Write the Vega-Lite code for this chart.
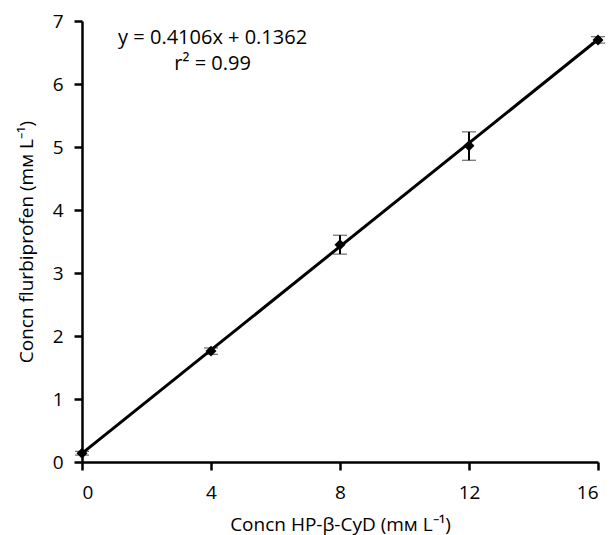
{
  "$schema": "https://vega.github.io/schema/vega-lite/v6.json",
  "width": 516,
  "height": 441,
  "autosize": {"type": "none"},
  "padding": {"left": 82, "top": 21, "right": 16, "bottom": 73},
  "background": "white",
  "config": {
    "font": "Open Sans",
    "view": {"stroke": null},
    "axis": {
      "domainColor": "black",
      "domainWidth": 2.5,
      "tickColor": "black",
      "tickWidth": 2.5,
      "tickSize": 8,
      "grid": false,
      "labelFont": "Open Sans",
      "labelFontSize": 19,
      "labelColor": "black",
      "titleFont": "Open Sans",
      "titleFontSize": 19,
      "titleFontWeight": "normal",
      "titleColor": "black"
    }
  },
  "datasets": {
    "pts": [
      {"x": 0, "y": 0.14, "lo": 0.11, "hi": 0.17},
      {"x": 4, "y": 1.76, "lo": 1.71, "hi": 1.81},
      {"x": 8, "y": 3.45, "lo": 3.30, "hi": 3.60},
      {"x": 12, "y": 5.02, "lo": 4.79, "hi": 5.24},
      {"x": 16, "y": 6.70, "lo": 6.65, "hi": 6.75}
    ],
    "fit": [
      {"x": 0, "y": 0.1362},
      {"x": 16, "y": 6.7058}
    ],
    "notes": [
      {"x": 4.05, "y": 6.73, "t": "y = 0.4106x + 0.1362"},
      {"x": 4.05, "y": 6.32, "t": "r² = 0.99"}
    ]
  },
  "encoding": {
    "x": {"field": "x", "type": "quantitative", "scale": {"domain": [0, 16]},
      "title": "Concn HP-β-CyD (mм L⁻¹)",
      "axis": {"values": [0, 4, 8, 12, 16], "format": "d", "labelPadding": 13, "titlePadding": 13}},
    "y": {"field": "y", "type": "quantitative", "scale": {"domain": [0, 7]},
      "title": "Concn flurbiprofen (mм L⁻¹)",
      "axis": {"values": [0, 1, 2, 3, 4, 5, 6, 7], "format": "d", "labelPadding": 11, "titlePadding": 16}}
  },
  "layer": [
    {
      "data": {"name": "fit"},
      "mark": {"type": "line", "color": "black", "strokeWidth": 3}
    },
    {
      "data": {"name": "pts"},
      "mark": {"type": "errorbar", "ticks": {"size": 14, "color": "black", "strokeWidth": 2}, "rule": {"color": "black", "strokeWidth": 2}},
      "encoding": {
        "y": {"field": "lo", "type": "quantitative", "title": "Concn flurbiprofen (mм L⁻¹)"},
        "y2": {"field": "hi"}
      }
    },
    {
      "data": {"name": "pts"},
      "mark": {"type": "point", "shape": "diamond", "filled": true, "color": "black", "size": 120, "opacity": 1}
    },
    {
      "data": {"name": "notes"},
      "mark": {"type": "text", "font": "Open Sans", "fontSize": 20, "color": "black", "align": "center", "baseline": "middle"},
      "encoding": {
        "text": {"field": "t"}
      }
    }
  ]
}
